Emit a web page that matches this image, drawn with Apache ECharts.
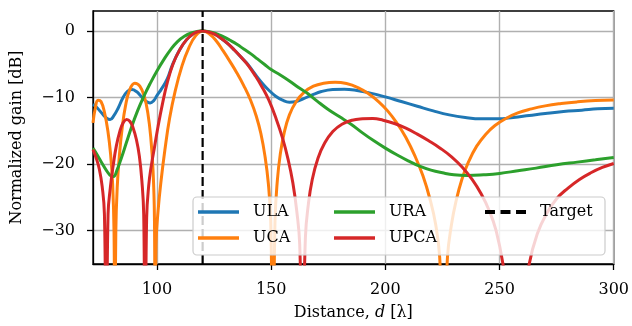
<!DOCTYPE html>
<html>
<head>
<meta charset="utf-8">
<script src="https://cdn.jsdelivr.net/npm/echarts@6/dist/echarts.min.js"></script>
<style>
    html, body { margin: 0; padding: 0; background: #fff; }
    #chart { width: 632px; height: 326px; }
</style>
</head>
<body>
<div id="chart"></div>
<script>
    // [distance, normalized gain dB]
    var ulaGain = [
        [72, -11.0], [74, -11.6], [76, -12.4], [78, -13.1], [79.5, -13.3], [81, -12.8], [83, -11.6],
        [85, -10.1], [87, -9.1], [89, -8.8], [91, -9.1], [93, -9.8], [95, -10.5], [97, -10.8],
        [98.5, -10.5], [100, -9.7], [102, -8.7], [104.5, -7.2], [107, -4.9], [110, -2.8], [113, -1.3],
        [116, -0.4], [118, -0.1], [120, 0], [122, -0.1], [125, -0.45], [128, -1.1], [131, -1.9],
        [134, -2.9], [137, -4.0], [140, -5.1], [143, -6.5], [146, -7.8], [149, -8.9], [152, -9.8],
        [155, -10.4], [158, -10.7], [161, -10.6], [164, -10.2], [168, -9.6], [172, -9.1], [177, -8.8],
        [182, -8.75], [187, -8.9], [193, -9.3], [200, -9.9], [207, -10.6], [214, -11.3], [221, -12.0],
        [228, -12.6], [235, -13.0], [242, -13.2], [249, -13.2], [256, -13.0], [263, -12.7], [270, -12.4],
        [278, -12.1], [286, -11.9], [293, -11.7], [300, -11.6]
    ];
    var ucaGain = [
        [72, -13.8], [73, -11.6], [74.2, -10.4], [75.5, -10.6], [77, -12.2], [78.5, -15.0], [79.7, -18.5],
        [80.6, -23], [81.2, -30], [81.6, -50], [82.0, -30], [82.6, -23.5], [83.6, -18.5], [84.8, -14.5],
        [86.2, -11.3], [88, -8.9], [90.3, -7.85], [92.5, -8.3], [94.5, -9.9], [96, -12.3], [97.3, -16],
        [98.3, -21], [98.9, -28], [99.2, -50], [99.6, -32], [100.5, -27], [101.8, -22.5], [103.5, -17.8],
        [105.5, -13.2], [108, -9.0], [111, -5.2], [114, -2.5], [117, -0.7], [120, 0], [123, -0.45],
        [126, -1.5], [129, -3.0], [132, -4.6], [135, -6.3], [138, -8.2], [141, -10.4], [143.5, -12.8],
        [145.5, -15.4], [147.3, -18.8], [148.8, -23], [149.8, -28.5], [150.8, -50], [151.7, -28.5],
        [152.7, -22.5], [154, -18.5], [155.7, -15.3], [158, -12.6], [161, -10.6], [164.5, -9.2],
        [168.5, -8.3], [173, -7.85], [178, -7.7], [183, -7.9], [188, -8.5], [192.5, -9.4], [197, -10.6],
        [201, -12.0], [205, -13.8], [209, -16.0], [213, -18.8], [216.5, -21.8], [219.5, -25.2], [222, -29],
        [223.8, -34], [225.5, -50], [227.2, -34], [229, -29], [231, -25.5], [233.5, -22.3], [236.5, -19.6],
        [240, -17.3], [244, -15.5], [248, -14.2], [253, -13.1], [258, -12.3], [264, -11.7], [270, -11.25],
        [277, -10.9], [284, -10.65], [292, -10.45], [300, -10.35]
    ];
    var uraGain = [
        [72, -17.6], [74, -18.7], [76, -19.9], [78, -21.0], [80, -21.8], [81, -21.85], [82.5, -20.9],
        [84.5, -19.0], [86.6, -16.8], [89, -14.3], [91.5, -12.0], [94, -10.0], [97, -7.9], [100, -6.0],
        [103, -4.3], [106, -2.8], [109, -1.6], [112, -0.8], [115, -0.3], [118, -0.05], [120, 0],
        [123, -0.1], [126, -0.4], [129, -0.85], [132, -1.4], [135, -2.0], [138, -2.7], [141, -3.4],
        [144, -4.2], [147, -5.0], [150, -5.8], [154, -6.6], [158, -7.5], [162, -8.5], [166, -9.4],
        [170, -10.5], [175, -11.8], [180, -12.9], [185, -14.0], [190, -15.3], [195, -16.5], [200, -17.6],
        [205, -18.6], [210, -19.5], [215, -20.3], [220, -20.9], [225, -21.3], [230, -21.6], [236, -21.7],
        [243, -21.6], [250, -21.4], [258, -21.0], [266, -20.6], [275, -20.1], [284, -19.7], [292, -19.35],
        [300, -19.0]
    ];
    var upcaGain = [
        [72, -17.8], [73.5, -19.2], [74.8, -20.8], [76, -23.3], [77, -27.5], [77.8, -50], [78.6, -27.5],
        [79.6, -23.5], [80.8, -20.3], [82.2, -17.3], [83.8, -15.0], [85.2, -13.8], [86.7, -13.3],
        [88.2, -13.6], [89.6, -14.6], [91, -16.3], [92.3, -18.8], [93.4, -22.5], [94.2, -27.5], [94.8, -50],
        [95.5, -28], [96.4, -23.2], [97.5, -20.3], [99, -17.3], [100.5, -14.3], [102.5, -10.8],
        [104.5, -7.8], [107, -5.0], [110, -2.8], [113, -1.3], [116, -0.4], [118, -0.1], [120, 0],
        [122, -0.1], [125, -0.45], [128, -1.1], [131, -1.9], [134, -2.9], [137, -4.0], [140, -5.2],
        [143, -6.7], [146, -8.4], [149, -10.4], [152, -13.0], [155, -16.1], [157.5, -19.4], [159.5, -22.8],
        [161.2, -27], [162.5, -32], [163.7, -50], [165, -31], [166.3, -26], [168, -22.3], [170.5, -19.1],
        [173.5, -16.8], [177, -15.1], [181, -14.0], [185.5, -13.4], [190, -13.2], [194.5, -13.15],
        [199, -13.4], [204, -13.9], [209, -14.6], [214, -15.5], [219, -16.5], [224, -17.6], [229, -18.9],
        [233.5, -20.4], [238, -22.3], [242, -24.5], [245.5, -27], [248.5, -30], [251.5, -35], [257, -48],
        [263, -35], [266.5, -30.5], [270.5, -27.5], [275, -25.2], [280, -23.6], [285, -22.3], [290, -21.3],
        [295, -20.5], [300, -19.9]
    ];
    var targetDistance = 120;

    var xTicks = [100, 150, 200, 250, 300];
    var yTicks = [-30, -20, -10, 0];
    var xRange = [72, 300];
    var yRange = [-35, 3];

    var FONT = 'DejaVu Serif';
    var colors = ['#1f77b4', '#ff7f0e', '#2ca02c', '#d62728'];

    // legend glyphs: a solid bar and a dashed bar
    var SOLID_ICON = 'path://M0,0L41,0L41,3.4L0,3.4Z';
    var DASH_ICON = 'path://M0,0L9,0L9,3.4L0,3.4ZM14,0L23,0L23,3.4L14,3.4ZM28,0L37,0L37,3.4L28,3.4Z';

    var chart = echarts.init(document.getElementById('chart'), null, { renderer: 'canvas' });

    function curve(name, data, color) {
        return {
            name: name,
            type: 'line',
            data: data,
            symbol: 'none',
            showSymbol: false,
            smooth: 0.45,
            z: 3,
            lineStyle: { color: color, width: 3 },
            itemStyle: { color: color }
        };
    }

    function legendBlock(names, left) {
        return {
            data: names.map(function (n) {
                return { name: n, icon: n === 'Target' ? DASH_ICON : SOLID_ICON };
            }),
            orient: 'vertical',
            left: left,
            top: 204,
            padding: 0,
            itemWidth: 41,
            itemHeight: 16,
            itemGap: 10,
            symbolKeepAspect: true,
            z: 20,
            textStyle: {
                fontFamily: FONT, fontSize: 16, color: '#000',
                padding: [0, 0, 0, 9]
            }
        };
    }

    var option = {
        animation: false,
        backgroundColor: '#fff',
        grid: {
            left: 93, right: 17, top: 11, bottom: 62,
            show: true,
            borderColor: '#000',
            borderWidth: 1.3,
            backgroundColor: 'transparent'
        },
        xAxis: {
            type: 'value',
            min: xRange[0],
            max: xRange[1],
            name: 'Distance, {i|d} [λ]',
            nameLocation: 'middle',
            nameGap: 41,
            nameTextStyle: {
                fontFamily: FONT, fontSize: 16, color: '#000',
                rich: { i: { fontFamily: FONT, fontSize: 16, fontStyle: 'italic', color: '#000' } }
            },
            axisLine: { onZero: false, lineStyle: { color: '#000', width: 1.3 } },
            axisTick: { customValues: xTicks, length: 6, lineStyle: { color: '#000', width: 1.3 } },
            axisLabel: {
                customValues: xTicks, margin: 18,
                fontFamily: FONT, fontSize: 16, color: '#000'
            },
            splitLine: { show: true, lineStyle: { color: '#b0b0b0', width: 1.4 } }
        },
        yAxis: {
            type: 'value',
            min: yRange[0],
            max: yRange[1],
            name: 'Normalized gain [dB]',
            nameLocation: 'middle',
            nameGap: 68,
            nameTextStyle: { fontFamily: FONT, fontSize: 16, color: '#000' },
            axisLine: { onZero: false, lineStyle: { color: '#000', width: 1.3 } },
            axisTick: { customValues: yTicks, length: 6, lineStyle: { color: '#000', width: 1.3 } },
            axisLabel: {
                customValues: yTicks, margin: 18,
                fontFamily: FONT, fontSize: 16, color: '#000',
                formatter: function (v) { return String(v).replace('-', '\u2212'); }
            },
            splitLine: { show: true, lineStyle: { color: '#b0b0b0', width: 1.4 } }
        },
        legend: [
            legendBlock(['ULA', 'UCA'], 198),
            legendBlock(['URA', 'UPCA'], 334),
            legendBlock(['Target'], 485)
        ],
        // legend frame
        graphic: [{
            type: 'rect',
            z: 15,
            shape: { x: 193, y: 197, width: 412, height: 58, r: 4 },
            style: { fill: 'rgba(255,255,255,0.8)', stroke: '#cccccc', lineWidth: 1.2 }
        }],
        series: [
            curve('ULA', ulaGain, colors[0]),
            curve('UCA', ucaGain, colors[1]),
            curve('URA', uraGain, colors[2]),
            curve('UPCA', upcaGain, colors[3]),
            {
                name: 'Target',
                type: 'line',
                data: [[targetDistance, yRange[0]], [targetDistance, yRange[1]]],
                symbol: 'none',
                showSymbol: false,
                z: 4,
                lineStyle: { color: '#000', width: 2.2, type: [9, 4] },
                itemStyle: { color: '#000' }
            }
        ]
    };

    chart.setOption(option);
</script>
</body>
</html>
